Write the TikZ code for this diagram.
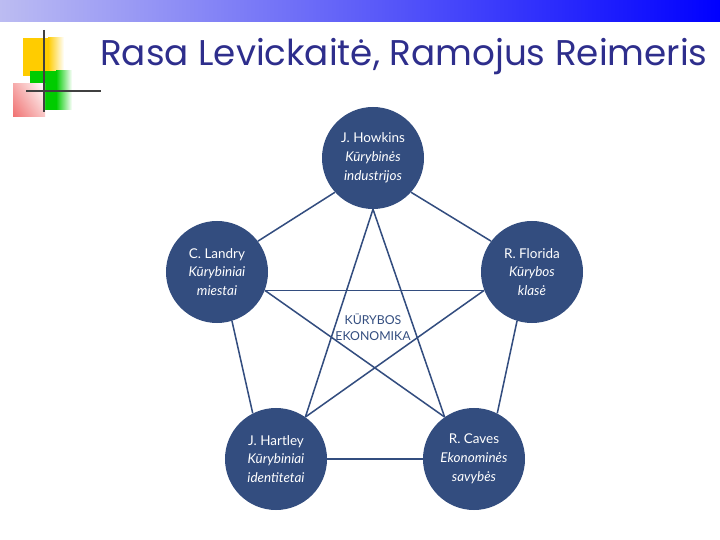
\documentclass[tikz,border=0pt]{standalone}
\usepackage{fontspec}
\setmainfont{Lato}
\newfontfamily\titlefont{Poppins}
\usepackage{tikz}
\usetikzlibrary{positioning,shadings}
\definecolor{navy}{HTML}{334D7F}
\definecolor{titleink}{HTML}{2E2E8C}
\definecolor{barleft}{HTML}{BCBCF2}
\definecolor{barright}{HTML}{0000FF}
\definecolor{sqyellow}{HTML}{FFCC00}
\definecolor{sqgreen}{HTML}{00CC00}
\definecolor{sqred}{HTML}{F07070}
\definecolor{crossline}{HTML}{404040}

\begin{document}
\begin{tikzpicture}[x=0.03cm,y=-0.03cm,font=\fontsize{11.5}{16}\selectfont,
  author/.style={circle,fill=navy,text=white,minimum size=3.06cm,inner sep=0pt,align=center},
  link/.style={navy,line width=1.3pt}]
  \useasboundingbox (0,0) rectangle (720,540);
  % top bar
  \shade[left color=barleft,right color=barright] (0,0) rectangle (720,22);
  % corner squares
  \fill[sqyellow] (23,38) rectangle (48,76);
  \shade[left color=sqyellow,right color=white] (48,38) rectangle (64,76);
  \fill[sqgreen] (30,71) rectangle (56,110);
  \shade[left color=sqgreen,right color=white] (56,71) rectangle (72,110);
  \shade[lower left=sqred,lower right=sqred!40,upper left=sqred!60,upper right=white] (13,84) rectangle (45,117);
  \draw[crossline,line width=1.2pt] (44,30) -- (44,112);
  \draw[crossline,line width=1.2pt] (26,91) -- (101,91);
  % title
  \node[anchor=west,text=titleink,inner sep=0pt,font=\titlefont\fontsize{30.5}{34}\selectfont] (title) at (100,57) {Rasa Levickaitė, Ramojus Reimeris};
  % authors
  \node[author] (hw) at (373,158) {J. Howkins\\\textit{Kūrybinės}\\\textit{industrijos}};
  \node[author] (ld) at (217,272) {C. Landry\\\textit{Kūrybiniai}\\\textit{miestai}};
  \node[author] (fl) at (532,272) {R. Florida\\\textit{Kūrybos}\\\textit{klasė}};
  \node[author] (hr) at (276,459) {J. Hartley\\\textit{Kūrybiniai}\\\textit{identitetai}};
  \node[author] (cv) at (474,459) {R. Caves\\\textit{Ekonominės}\\\textit{savybės}};
  \node[text=navy,align=center,font=\fontsize{10.5}{13.5}\selectfont] (core) at (373,327) {KŪRYBOS\\EKONOMIKA};
  % pentagon and star
  \foreach \a/\b in {hw.222/ld.37,hw.318/fl.143,ld.-73/hr.117,fl.253/cv.63,hr.0/cv.180,
                     hw.270/hr.55,hw.270/cv.125,ld.-21/fl.201,ld.-21/cv.125,fl.201/hr.55}
    \draw[link] (\a) -- (\b);
\end{tikzpicture}
\end{document}
